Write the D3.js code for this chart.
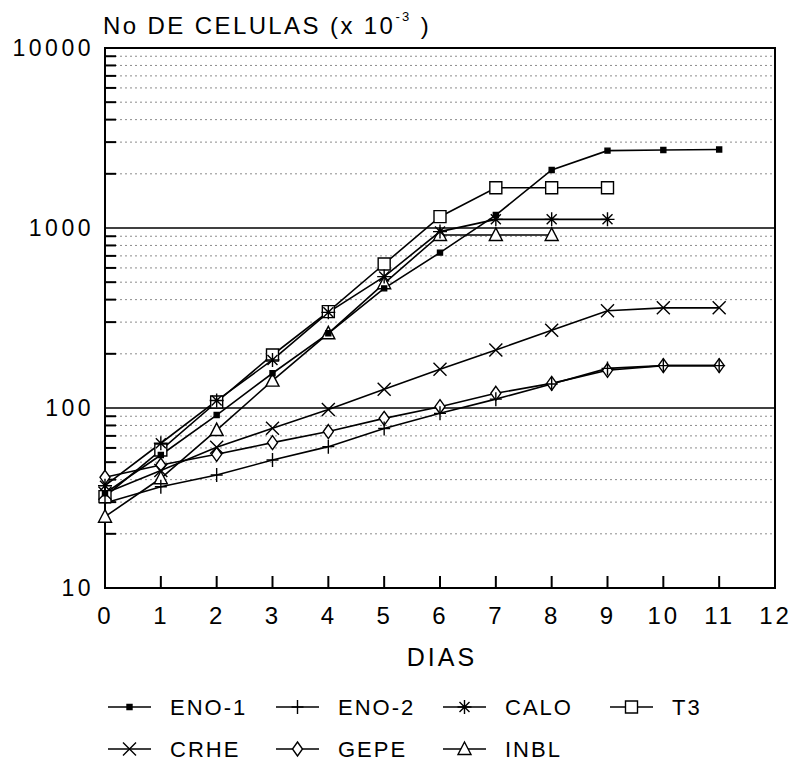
<!DOCTYPE html>
<meta charset="utf-8">
<style>

    body {
        margin: 0;
        background: #fff;
    }

    text {
        font-family: "Liberation Sans", Arial, sans-serif;
        fill: #000;
    }

    .frame {
        fill: none;
        stroke: #000;
        stroke-width: 2px;
    }

    .decade {
        stroke: #000;
        stroke-width: 1.6px;
    }

    .minor {
        stroke: #8c8c8c;
        stroke-width: 1px;
        stroke-dasharray: 2, 3;
    }

    .tick-in {
        stroke: #000;
        stroke-width: 2px;
    }

    .serie {
        fill: none;
        stroke: #000;
        stroke-width: 1.6px;
    }

    .mark {
        fill: #fff;
        stroke: #000;
        stroke-width: 1.4px;
    }

</style>
<body>
<script src="https://d3js.org/d3.v7.min.js"></script>
<script>

    // dias (eje x) y marcas del eje log
    var dias = d3.range(0, 13);
    var yTicks = [10, 100, 1000, 10000];

    // No de celulas (x 10^-3) por dia
    var eno1 = [33.6, 54.8, 91.4, 156, 260, 462, 730, 1180, 2100, 2690, 2710, 2730];
    var eno2 = [29.7, 36.5, 42.4, 51.4, 61, 77, 93.4, 112, 136, 166, 172, 172];
    var calo = [37, 63.7, 110, 185, 340, 537, 955, 1117, 1117, 1117];
    var t3   = [32.2, 58.4, 108, 197, 343, 631, 1156, 1675, 1675, 1675];
    var crhe = [33.6, 45, 60.5, 77.1, 98, 127, 164, 210, 270, 347, 360, 360];
    var gepe = [41.2, 48.2, 55.3, 64.2, 74, 87.6, 101.7, 120.7, 137, 162, 172, 172];
    var inbl = [24.9, 40.7, 75.4, 142, 260, 493, 915, 915, 915];

    var series = [
        {name: "ENO-1", values: eno1, mark: "dot"},
        {name: "ENO-2", values: eno2, mark: "plus"},
        {name: "CALO", values: calo, mark: "star"},
        {name: "T3", values: t3, mark: "square"},
        {name: "CRHE", values: crhe, mark: "times"},
        {name: "GEPE", values: gepe, mark: "diamond"},
        {name: "INBL", values: inbl, mark: "triangle"}
    ];

    var width = 791,
            height = 761;

    var x = d3.scaleLinear().domain([0, 12]).range([105, 775]),
            y = d3.scaleLog().domain([10, 10000]).range([588, 48]);

    var svg = d3.select("body").append("svg")
            .attr("width", width)
            .attr("height", height);

    // lineas menores (2..9 de cada decada)
    var minors = [];
    [10, 100, 1000].forEach(function(d) {
        d3.range(2, 10).forEach(function(k) { minors.push(d * k); });
    });

    svg.selectAll("line.minor")
            .data(minors)
            .enter().append("line")
            .attr("class", "minor")
            .attr("x1", x(0)).attr("x2", x(12))
            .attr("y1", function(d) { return y(d); })
            .attr("y2", function(d) { return y(d); });

    svg.selectAll("line.ytick")
            .data(minors)
            .enter().append("line")
            .attr("class", "tick-in")
            .attr("x1", x(0)).attr("x2", x(0) + 11)
            .attr("y1", function(d) { return y(d); })
            .attr("y2", function(d) { return y(d); });

    svg.selectAll("line.decade")
            .data([100, 1000])
            .enter().append("line")
            .attr("class", "decade")
            .attr("x1", x(0)).attr("x2", x(12))
            .attr("y1", function(d) { return y(d); })
            .attr("y2", function(d) { return y(d); });

    svg.selectAll("line.xtick")
            .data(dias.slice(1, 12))
            .enter().append("line")
            .attr("class", "tick-in")
            .attr("x1", function(d) { return x(d); })
            .attr("x2", function(d) { return x(d); })
            .attr("y1", y(10)).attr("y2", y(10) - 12);

    svg.append("rect")
            .attr("class", "frame")
            .attr("x", x(0)).attr("y", y(10000))
            .attr("width", x(12) - x(0))
            .attr("height", y(10) - y(10000));

    // ejes (solo etiquetas)
    var yAxis = svg.append("g")
            .attr("transform", "translate(" + x(0) + ",0)")
            .call(d3.axisLeft(y).tickValues(yTicks).tickSize(0).tickPadding(11).tickFormat(d3.format("d")));

    var xAxis = svg.append("g")
            .attr("transform", "translate(0," + y(10) + ")")
            .call(d3.axisBottom(x).tickValues(dias).tickSize(0).tickPadding(19).tickFormat(d3.format("d")));

    [yAxis, xAxis].forEach(function(g) {
        g.select(".domain").remove();
        g.selectAll("text")
                .style("font-family", "'Liberation Sans', Arial, sans-serif");
    });
    yAxis.selectAll("text").style("font-size", "23px").style("letter-spacing", "3.5px");
    xAxis.selectAll("text").style("font-size", "24px").style("letter-spacing", "3px");

    // titulos
    var title = svg.append("text")
            .attr("x", 103)
            .attr("y", 34)
            .style("font-size", "24px")
            .style("letter-spacing", "2.4px");
    title.append("tspan").text("No DE CELULAS (x 10");
    title.append("tspan").attr("dy", -13).style("font-size", "13px").text("-3");
    title.append("tspan").attr("dy", 13).text("  )");

    svg.append("text")
            .attr("x", 442)
            .attr("y", 666)
            .attr("text-anchor", "middle")
            .style("font-size", "25px")
            .style("letter-spacing", "3px")
            .text("DIAS");

    // curvas
    var line = d3.line()
            .x(function(d, i) { return x(i); })
            .y(function(d) { return y(d); });

    svg.selectAll("path.serie")
            .data(series)
            .enter().append("path")
            .attr("class", "serie")
            .attr("d", function(d) { return line(d.values); });

    function markPath(type) {
        switch (type) {
            case "dot": return "M-2.5,-2.5h5v5h-5z";
            case "plus": return "M0,-7V7M-6,0H6";
            case "star": return "M0,-7V7M-7,0H7M-5,-5L5,5M-5,5L5,-5";
            case "square": return "M-6,-6h12v12h-12z";
            case "times": return "M-6.5,-6.5L6.5,6.5M-6.5,6.5L6.5,-6.5";
            case "diamond": return "M0,-7L5,0L0,7L-5,0Z";
            case "triangle": return "M0,-7L6.5,5.5H-6.5Z";
        }
    }

    // primero figuras abiertas, luego las de trazo
    var order = ["square", "diamond", "triangle", "star", "times", "plus", "dot"];
    var points = [];
    series.forEach(function(s) {
        s.values.forEach(function(v, i) { points.push({dia: i, v: v, mark: s.mark}); });
    });
    points.sort(function(a, b) { return order.indexOf(a.mark) - order.indexOf(b.mark); });

    svg.selectAll("path.mark")
            .data(points)
            .enter().append("path")
            .attr("class", "mark")
            .attr("transform", function(d) { return "translate(" + x(d.dia) + "," + y(d.v) + ")"; })
            .attr("d", function(d) { return markPath(d.mark); })
            .style("fill", function(d) { return d.mark === "dot" ? "#000" : null; });

    // leyenda
    var colX = [108, 276, 443, 610],
            rowY = [707, 749];

    var item = svg.selectAll("g.legend")
            .data(series)
            .enter().append("g")
            .attr("class", "legend")
            .attr("transform", function(d, i) { return "translate(" + colX[i % 4] + "," + rowY[Math.floor(i / 4)] + ")"; });

    item.append("line")
            .attr("class", "serie")
            .attr("x1", 0).attr("x2", 43)
            .attr("y1", 0).attr("y2", 0);

    item.append("path")
            .attr("class", "mark")
            .attr("transform", "translate(21.5,0)")
            .attr("d", function(d) { return markPath(d.mark); })
            .style("fill", function(d) { return d.mark === "dot" ? "#000" : null; });

    item.append("text")
            .attr("x", 62)
            .attr("y", 8)
            .style("font-size", "22px")
            .style("letter-spacing", "2px")
            .text(function(d) { return d.name; });

</script>
</body>
